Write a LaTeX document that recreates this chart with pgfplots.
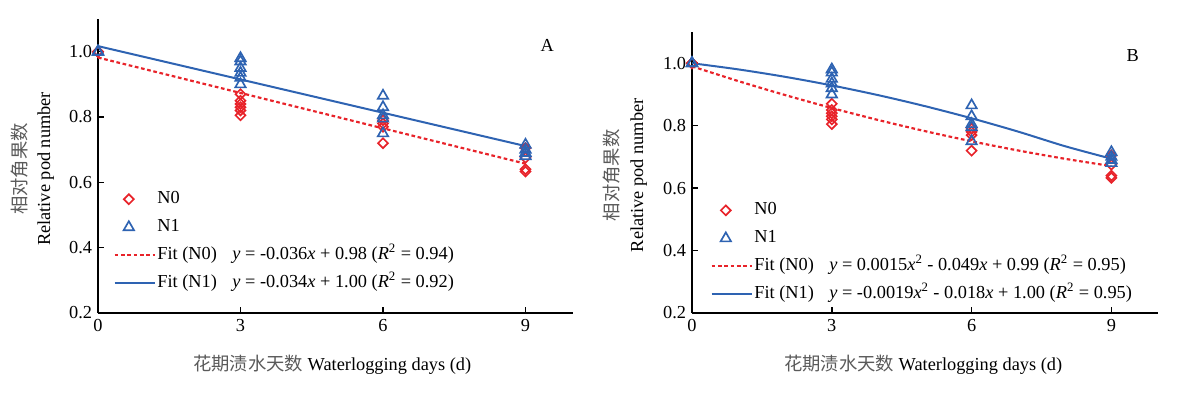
\documentclass[border=0pt]{standalone}
\usepackage{fontspec}
\setmainfont{Liberation Serif}
\newfontfamily\cjk{Noto Sans CJK SC}
\usepackage{pgfplots}
\pgfplotsset{compat=1.18}
\definecolor{myred}{RGB}{232,35,42}
\definecolor{myblue}{RGB}{46,99,178}
\definecolor{cjkgray}{RGB}{90,90,90}
\pgfplotsset{
  myaxis/.style={
    scale only axis,
    xmin=0, xmax=10, ymin=0.2, ymax=1.1,
    axis lines*=left,
    axis line style={line width=1.2pt, -},
    tick style={line width=0.9pt, black},
    tick align=inside,
    major tick length=3.6pt,
    xtick={0,3,6,9},
    ytick={0.2,0.4,0.6,0.8,1.0},
    yticklabel style={/pgf/number format/.cd, fixed, fixed zerofill, precision=1},
    /pgf/number format/assume math mode=true,
    ticklabel style={font=\fontsize{11}{13}\selectfont},
    label style={font=\fontsize{11}{14.5}\selectfont},
    ylabel={{\color{cjkgray}\cjk 相对角果数}\\Relative pod number},
    ylabel style={align=center, rotate=0},
    xlabel={{\color{cjkgray}\cjk 花期渍水天数} Waterlogging days (d)},
    legend cell align=left,
    legend style={draw=none, fill=none, font=\fontsize{11}{12}\selectfont,
      row sep=3.8pt, inner sep=0pt,
      nodes={text height=8pt, text depth=3pt, inner sep=1pt}},
  },
  pN0/.style={only marks, mark=square, mark size=2.1pt,
    mark options={rotate=45, line width=1pt, draw=myred, fill=none}, color=myred},
  pN1/.style={only marks, mark=triangle, mark size=3.6pt,
    mark options={line width=1pt, draw=myblue, fill=none}, color=myblue},
  fN0/.style={no marks, color=myred, line width=1.3pt, dash pattern=on 2.2pt off 1.6pt,
    legend image code/.code={\draw[##1] (0pt,0pt) -- (24pt,0pt);}},
  fN1/.style={no marks, color=myblue, line width=1.2pt,
    legend image code/.code={\draw[##1] (0pt,0pt) -- (24pt,0pt);}},
}
\pgfplotstableread{
x y
0 1.0
0 1.0
0 1.0
3 0.87
3 0.85
3 0.84
3 0.83
3 0.82
3 0.805
6 0.79
6 0.78
6 0.77
6 0.72
9 0.705
9 0.675
9 0.64
9 0.633
}\NzeroData
\pgfplotstableread{
x y
0 1.0
0 1.0
0 1.0
3 0.98
3 0.97
3 0.95
3 0.935
3 0.92
3 0.90
6 0.865
6 0.83
6 0.805
6 0.795
6 0.75
9 0.715
9 0.70
9 0.69
9 0.68
}\NoneData
\begin{document}
\begin{tikzpicture}
\path[use as bounding box] (-58.8pt,-51pt) rectangle (651pt,187.8pt);
% Panel A
\begin{axis}[myaxis, at={(0pt,0pt)}, anchor=south west,
  width=285pt, height=176.4pt,
  ylabel style={at={(axis description cs:-0.080,0.49)}, anchor=south},
  xlabel style={at={(axis description cs:0.493,-0.177)}, anchor=center},
  legend style={at={(axis description cs:0.032,0.425)}, anchor=north west},
  ]
\addplot[pN0] table {\NzeroData};
\addlegendentry{N0}
\addplot[pN1] table {\NoneData};
\addlegendentry{N1}
\addplot[fN0] coordinates {(0,0.982) (9,0.657)};
\addlegendentry{\makebox[45pt][l]{Fit (N0)}\textit{y} = -0.036\textit{x} + 0.98 (\textit{R}\textsuperscript{2} = 0.94)}
\addplot[fN1] coordinates {(0,1.017) (9,0.711)};
\addlegendentry{\makebox[45pt][l]{Fit (N1)}\textit{y} = -0.034\textit{x} + 1.00 (\textit{R}\textsuperscript{2} = 0.92)}
\node[font=\fontsize{11}{13}\selectfont] at (axis cs:9.46,1.02) {A};
\end{axis}
% Panel B
\begin{axis}[myaxis, at={(356.4pt,0pt)}, anchor=south west,
  width=279.6pt, height=168.6pt,
  ylabel style={at={(axis description cs:-0.084,0.49)}, anchor=south},
  xlabel style={at={(axis description cs:0.496,-0.185)}, anchor=center},
  legend style={at={(axis description cs:0.039,0.405)}, anchor=north west},
  ]
\addplot[pN0] table {\NzeroData};
\addlegendentry{N0}
\addplot[pN1] table {\NoneData};
\addlegendentry{N1}
\addplot[fN0, smooth] coordinates {(0,0.99) (1,0.9425) (2,0.898) (3,0.8565) (4,0.818) (5,0.7825) (6,0.75) (7,0.7205) (8,0.694) (9,0.6705)};
\addlegendentry{\makebox[45pt][l]{Fit (N0)}\textit{y} = 0.0015\textit{x}\textsuperscript{2} - 0.049\textit{x} + 0.99 (\textit{R}\textsuperscript{2} = 0.95)}
\addplot[fN1, smooth] coordinates {(0,1.0) (1,0.9801) (2,0.9564) (3,0.9289) (4,0.8976) (5,0.8625) (6,0.8236) (7,0.7809) (8,0.7344) (9,0.6941)};
\addlegendentry{\makebox[45pt][l]{Fit (N1)}\textit{y} = -0.0019\textit{x}\textsuperscript{2} - 0.018\textit{x} + 1.00 (\textit{R}\textsuperscript{2} = 0.95)}
\node[font=\fontsize{11}{13}\selectfont] at (axis cs:9.46,1.026) {B};
\end{axis}
\end{tikzpicture}
\end{document}
